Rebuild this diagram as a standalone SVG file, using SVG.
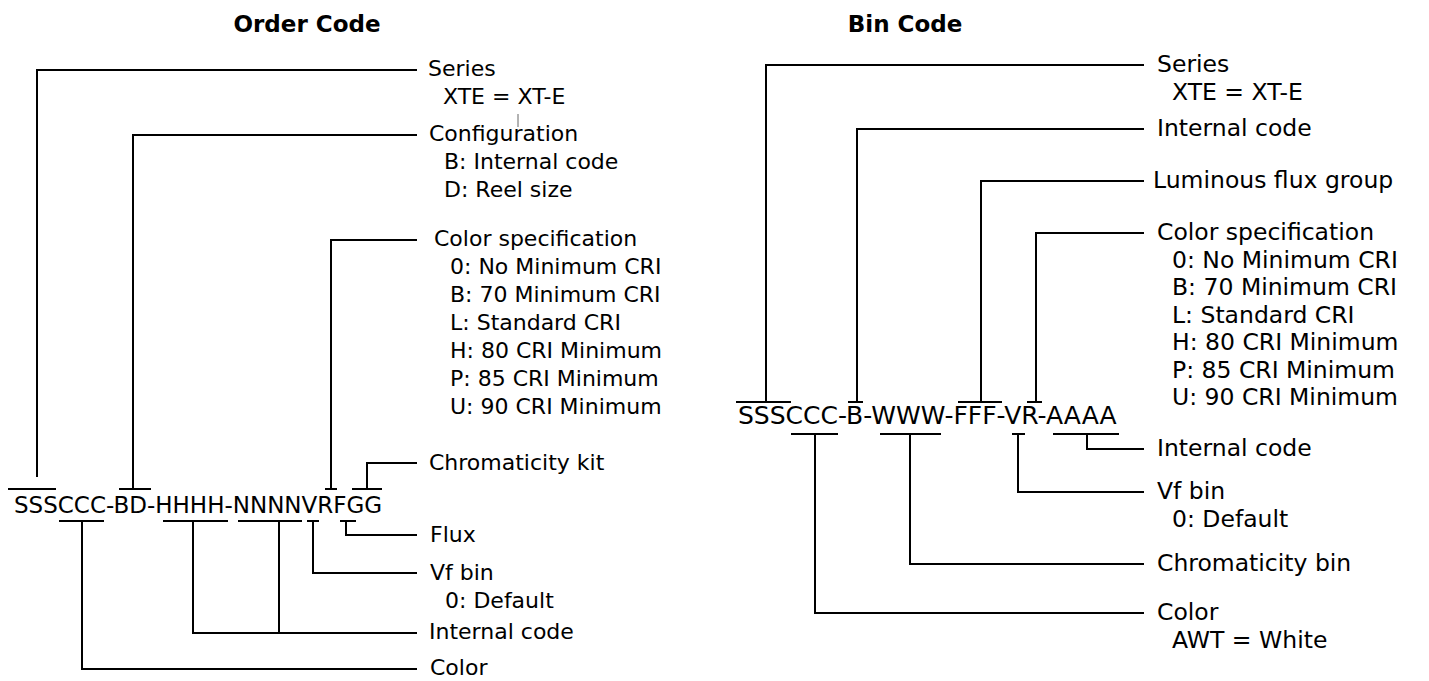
<svg xmlns="http://www.w3.org/2000/svg" width="1429" height="681" viewBox="0 0 1429 681">
<style>
text{font-family:"DejaVu Sans","Liberation Sans",sans-serif;fill:#000}
.t{font-weight:bold;font-size:23px;text-anchor:middle}
.l{font-size:22px}
.r{font-size:23.5px}
.cl{font-size:23px}
.cr{font-size:25px}
.c line,.c polyline{stroke:#000;stroke-width:2;fill:none}
</style>
<rect width="1429" height="681" fill="#fff"/>
<g id="titles">
<text class="t" x="307" y="32">Order Code</text>
<text class="t" x="905" y="32">Bin Code</text>
</g>
<g id="order-code"><text class="cl" x="14" y="513">SSSCCC-BD-HHHH-NNNNVRFGG</text></g>
<g id="o-series"><text class="l" x="428" y="76">Series</text><text class="l" x="443" y="104">XTE = XT-E</text></g>
<g id="o-config"><text class="l" x="429" y="141">Configuration</text><text class="l" x="444" y="169">B: Internal code</text><text class="l" x="444" y="197">D: Reel size</text></g>
<g id="o-colorspec"><text class="l" x="434" y="246">Color specification</text>
<text class="l" x="450" y="274">0: No Minimum CRI</text>
<text class="l" x="450" y="302">B: 70 Minimum CRI</text>
<text class="l" x="450" y="330">L: Standard CRI</text>
<text class="l" x="450" y="358">H: 80 CRI Minimum</text>
<text class="l" x="450" y="386">P: 85 CRI Minimum</text>
<text class="l" x="450" y="414">U: 90 CRI Minimum</text></g>
<g id="o-chromkit"><text class="l" x="429" y="470">Chromaticity kit</text></g>
<g id="o-flux"><text class="l" x="430" y="542">Flux</text></g>
<g id="o-vf"><text class="l" x="430" y="580">Vf bin</text><text class="l" x="445" y="608">0: Default</text></g>
<g id="o-internal"><text class="l" x="429" y="639">Internal code</text></g>
<g id="o-color"><text class="l" x="430" y="675">Color</text></g>

<g id="bin-code"><text class="cr" x="738" y="424">SSSCCC-B-WWW-FFF-VR-AAAA</text></g>
<g id="b-series"><text class="r" x="1157" y="72">Series</text><text class="r" x="1172" y="100">XTE = XT-E</text></g>
<g id="b-internal1"><text class="r" x="1157" y="136">Internal code</text></g>
<g id="b-lum"><text class="r" x="1153" y="188">Luminous flux group</text></g>
<g id="b-colorspec"><text class="r" x="1157" y="240">Color specification</text>
<text class="r" x="1172" y="267.5">0: No Minimum CRI</text>
<text class="r" x="1172" y="295">B: 70 Minimum CRI</text>
<text class="r" x="1172" y="322.5">L: Standard CRI</text>
<text class="r" x="1172" y="350">H: 80 CRI Minimum</text>
<text class="r" x="1172" y="377.5">P: 85 CRI Minimum</text>
<text class="r" x="1172" y="405">U: 90 CRI Minimum</text></g>
<g id="b-internal2"><text class="r" x="1157" y="456">Internal code</text></g>
<g id="b-vf"><text class="r" x="1157" y="499">Vf bin</text><text class="r" x="1172" y="527">0: Default</text></g>
<g id="b-chrom"><text class="r" x="1157" y="571">Chromaticity bin</text></g>
<g id="b-color"><text class="r" x="1157" y="620">Color</text><text class="r" x="1172" y="648">AWT = White</text></g>

<g id="connectors" class="c">
<line x1="518" y1="114" x2="518" y2="127" style="stroke:#666;stroke-width:1"/>
<line x1="8" y1="489" x2="56" y2="489"/>
<polyline points="417,70 37,70 37,477"/>
<line x1="119" y1="489" x2="151" y2="489"/>
<polyline points="417,135 133,135 133,489"/>
<line x1="325" y1="489" x2="337" y2="489"/>
<polyline points="417,240 331,240 331,489"/>
<line x1="352" y1="489" x2="382" y2="489"/>
<polyline points="417,463 367,463 367,489"/>
<line x1="340" y1="521" x2="356" y2="521"/>
<polyline points="346,521 346,535 417,535"/>
<line x1="307" y1="521" x2="319" y2="521"/>
<polyline points="313,521 313,573 417,573"/>
<line x1="163" y1="521" x2="228" y2="521"/>
<line x1="238" y1="521" x2="302" y2="521"/>
<polyline points="193,521 193,633 417,633"/>
<line x1="279" y1="521" x2="279" y2="633"/>
<line x1="59" y1="521" x2="104" y2="521"/>
<polyline points="82,521 82,669 417,669"/>
<line x1="736" y1="402" x2="791" y2="402"/>
<polyline points="1144,65 766,65 766,402"/>
<line x1="848" y1="402" x2="863" y2="402"/>
<polyline points="1144,129 857,129 857,402"/>
<line x1="958" y1="402" x2="1002" y2="402"/>
<polyline points="1144,181 981,181 981,402"/>
<line x1="1027" y1="402" x2="1042" y2="402"/>
<polyline points="1144,233 1036,233 1036,402"/>
<line x1="1053" y1="434" x2="1119" y2="434"/>
<polyline points="1087,434 1087,449 1144,449"/>
<line x1="1012" y1="434" x2="1025" y2="434"/>
<polyline points="1018,434 1018,492 1144,492"/>
<line x1="880" y1="434" x2="941" y2="434"/>
<polyline points="910,434 910,564 1144,564"/>
<line x1="791" y1="434" x2="838" y2="434"/>
<polyline points="815,434 815,613 1144,613"/>
</g>
</svg>
